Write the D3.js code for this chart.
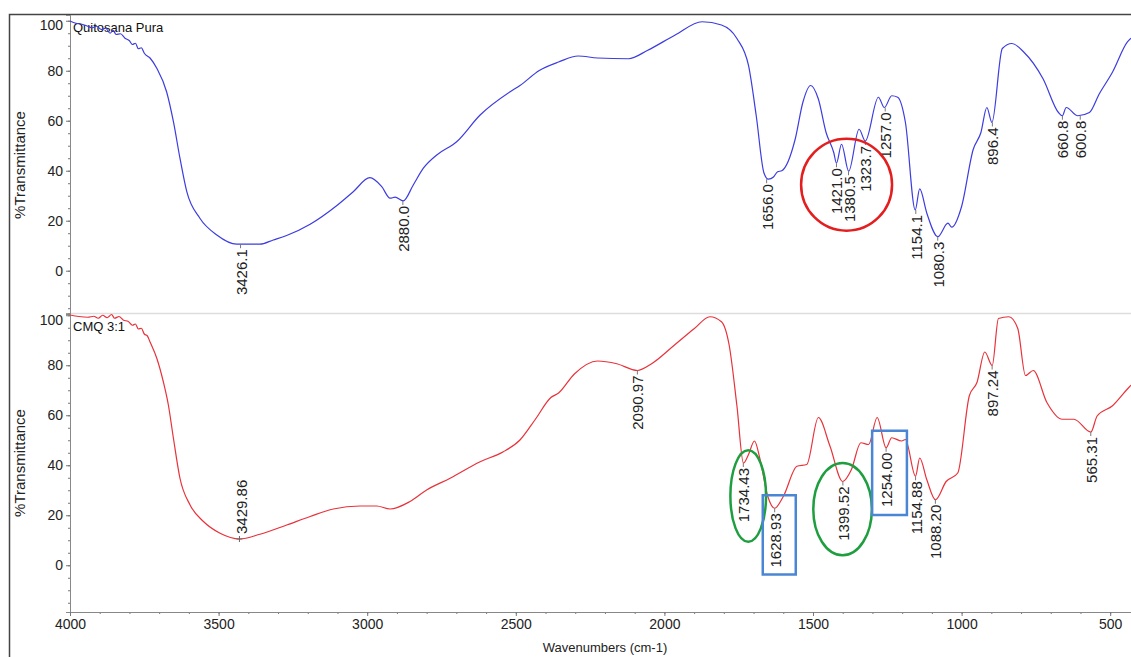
<!DOCTYPE html>
<html>
<head>
<meta charset="utf-8">
<script src="https://cdn.jsdelivr.net/npm/d3@7"></script>
<style>
body { margin: 0; background: #fff; }
text { font-family: Arial, "Liberation Sans", sans-serif; }
</style>
</head>
<body>
<div id="chart"></div>
<script>
// FTIR spectra, [wavenumber, %T]
var quitosana = [
  [4000, 99.9], [3980, 99], [3960, 98.6], [3940, 97.8], [3925, 97.2], [3910, 97.8],
  [3895, 96.5], [3880, 97], [3865, 95], [3855, 96.2], [3845, 94.5], [3830, 94.8],
  [3815, 93], [3800, 92], [3790, 90.5], [3780, 91], [3770, 88.8], [3760, 89.2],
  [3750, 87], [3730, 85], [3708, 81], [3675, 71.6], [3652, 59.6], [3630, 45],
  [3607, 31.6], [3563, 21], [3506, 14.3], [3439, 10.6], [3361, 10.6], [3316, 12.3],
  [3271, 14.1], [3192, 18.6], [3103, 26], [3047, 31.6], [2991, 37.2], [2951, 33.6],
  [2923, 29], [2906, 29.4], [2879, 27.9], [2845, 34.3], [2811, 41], [2766, 46.3],
  [2699, 51.6], [2620, 62.3], [2519, 71.6], [2486, 74.1], [2421, 80.1], [2356, 83.5],
  [2290, 85.9], [2225, 85.1], [2121, 84.8], [2056, 88.2], [1965, 94.2], [1873, 99.6],
  [1808, 98.3], [1756, 92.9], [1717, 82.1], [1691, 62], [1665, 39.1], [1650, 36.6],
  [1633, 37.5], [1619, 39.6], [1605, 40], [1560, 52.6], [1534, 67.4], [1508, 74.1],
  [1482, 68.7], [1456, 55.3], [1430, 47.2], [1421, 43], [1404, 50.6], [1380, 39.8],
  [1345, 56.6], [1324, 51.9], [1280, 69.4], [1260, 65.3], [1235, 70], [1215, 69.4],
  [1189, 59.3], [1156, 24.3], [1141, 32.7], [1117, 23], [1080, 13.6], [1046, 19],
  [1033, 17.4], [1000, 25.7], [961, 48.5], [935, 55.3], [915, 65.3], [898, 59.3],
  [863, 88.9], [831, 90.9], [791, 87.5], [726, 76.8], [674, 63.3], [661, 62],
  [648, 65.3], [609, 62], [570, 63.3], [537, 70.7], [492, 79.5], [442, 91.5], [430, 93]
];

var cmq = [
  [4000, 100.1], [3970, 99.5], [3940, 99.2], [3920, 99.6], [3905, 98.8], [3890, 100],
  [3875, 99], [3860, 100.3], [3850, 98.8], [3835, 99.5], [3820, 98], [3805, 97.6],
  [3790, 96], [3780, 96.5], [3770, 94.5], [3760, 94.8], [3750, 92.5], [3740, 91.8],
  [3731, 89.4], [3708, 82.8], [3686, 73.4], [3669, 64.1], [3652, 50.8], [3630, 34.8],
  [3596, 24.1], [3551, 17.5], [3495, 12.8], [3430, 10.5], [3361, 12.4], [3271, 16.1],
  [3192, 19.5], [3114, 22.5], [3024, 23.7], [2968, 23.7], [2923, 22.5], [2856, 25.5],
  [2800, 30.1], [2721, 34.8], [2620, 41.4], [2542, 45.4], [2486, 50.1], [2434, 58.4],
  [2382, 67.1], [2356, 68.9], [2303, 76.5], [2225, 81.7], [2160, 80.6], [2091, 77.9],
  [2043, 80.6], [1965, 88.2], [1899, 94.7], [1847, 99.4], [1808, 97.4], [1782, 88],
  [1756, 63.8], [1734, 40.9], [1717, 44.3], [1697, 49.7], [1678, 42.3], [1652, 27.5],
  [1629, 22.8], [1600, 27.5], [1554, 39.6], [1521, 40.3], [1482, 59.1], [1443, 47.7],
  [1400, 33.5], [1371, 38.2], [1339, 49], [1313, 48.3], [1284, 59.1], [1254, 47],
  [1235, 51], [1202, 49.7], [1189, 50.3], [1155, 35.6], [1141, 42.9], [1117, 34.2],
  [1088, 26.2], [1052, 33.5], [1013, 36.9], [974, 67.8], [948, 73.2], [922, 85.3],
  [897, 79.9], [876, 98.7], [841, 99.4], [811, 94.7], [785, 75.9], [759, 77.9],
  [713, 65.1], [661, 58.4], [622, 58.4], [565, 53.3], [544, 59.7], [492, 63.8],
  [442, 70.5], [430, 72]
];

// peak labels: [wavenumber, %T at the peak]
var quitosanaPeaks = [
  [3426.1, 10.6], [2880.0, 27.9], [1656.0, 36.6], [1421.0, 43], [1380.5, 39.8],
  [1323.7, 51.9], [1257.0, 65.3], [1154.1, 24.3], [1080.3, 13.6], [896.4, 59.3],
  [660.8, 62], [600.8, 62]
];
var cmqPeaks = [
  [2090.97, 77.9], [1734.43, 40.9], [1628.93, 22.8], [1399.52, 33.5], [1254.00, 47],
  [1154.88, 35.6], [1088.20, 26.2], [897.24, 79.9], [565.31, 53.3]
];
var cmqPeakAbove = [[3429.86, 10.5]];

// highlight marks [w1, w2, T1, T2]
var redCircles = [[1540, 1234, 52.8, 16]];
var greenEllipses = [[1778, 1658, 46, 9.4], [1499, 1302, 40.9, 4]];
var blueBoxes = [[1669, 1558, 28, -3.7], [1301, 1184, 53.8, 20.1]];

var xTicks = [4000, 3500, 3000, 2500, 2000, 1500, 1000, 500];
var yTicks = [0, 20, 40, 60, 80, 100];

var width = 1131, height = 657;

var svg = d3.select("#chart").append("svg")
  .attr("width", width).attr("height", height)
  .style("display", "block");

svg.append("rect").attr("width", width).attr("height", height).attr("fill", "#fff");

var x = d3.scaleLinear().domain([4000, 430]).range([70, 1131]);
var yTop = d3.scaleLinear().domain([-17, 102.3]).range([313.2, 15]);
var yBot = d3.scaleLinear().domain([-18.7, 100.5]).range([612, 314]);

// outer frame
svg.append("rect")
  .attr("x", 9.5).attr("y", 14.5)
  .attr("width", 1200).attr("height", 700)
  .attr("fill", "none").attr("stroke", "#444").attr("stroke-width", 1.5);

// panel separator
svg.append("line")
  .attr("x1", 70).attr("x2", 1131).attr("y1", 313.5).attr("y2", 313.5)
  .attr("stroke", "#ddd").attr("stroke-width", 1.5);

function styleAxis(g) {
  g.select(".domain").attr("stroke", "#888");
  g.selectAll(".tick line").attr("stroke", "#777");
  g.selectAll(".tick text").attr("fill", "#222").style("font-size", "14px");
}

// y axes, both panels
[yTop, yBot].forEach(function (y) {
  var minor = d3.range(-15, 101, 5);
  svg.append("g")
    .attr("transform", "translate(70,0)")
    .call(d3.axisLeft(y).tickValues(minor).tickSize(2).tickFormat(""))
    .call(styleAxis);
  var g = svg.append("g")
    .attr("transform", "translate(70,0)")
    .call(d3.axisLeft(y).tickValues(yTicks).tickSize(4).tickPadding(3).tickFormat(d3.format("d")))
    .call(styleAxis);
  g.selectAll(".tick text")
    .filter(function (d) { return d == 100; })
    .attr("dy", "0.65em");
});

// x axis
svg.append("g")
  .attr("transform", "translate(0,612)")
  .call(d3.axisBottom(x).tickValues(d3.range(4000, 429, -100)).tickSize(2).tickFormat(""))
  .call(styleAxis);
svg.append("g")
  .attr("transform", "translate(0,612)")
  .call(d3.axisBottom(x).tickValues(xTicks).tickSize(4).tickPadding(3).tickFormat(d3.format("d")))
  .call(styleAxis);

svg.append("text")
  .attr("x", 605).attr("y", 652)
  .attr("text-anchor", "middle")
  .style("font-size", "13px").attr("fill", "#222")
  .text("Wavenumbers (cm-1)");

// y titles
[[165, yTop], [463, yBot]].forEach(function (p) {
  svg.append("text")
    .attr("transform", "translate(20," + p[0] + ") rotate(-90)")
    .attr("text-anchor", "middle").attr("dy", "0.35em")
    .style("font-size", "15px").attr("fill", "#222")
    .text("%Transmittance");
});

// panel titles
svg.append("text").attr("x", 73).attr("y", 32)
  .style("font-size", "13px").attr("fill", "#111").text("Quitosana Pura");
svg.append("text").attr("x", 73).attr("y", 331)
  .style("font-size", "13px").attr("fill", "#111").text("CMQ 3:1");

function drawSpectrum(data, y, color) {
  var line = d3.line()
    .x(function (d) { return x(d[0]); })
    .y(function (d) { return y(d[1]); })
    .curve(d3.curveMonotoneX);
  svg.append("path")
    .datum(data)
    .attr("fill", "none")
    .attr("stroke", color)
    .attr("stroke-width", 1.2)
    .attr("d", line);
}

drawSpectrum(quitosana, yTop, "#3c3ce0");
drawSpectrum(cmq, yBot, "#e8323a");

// peak labels below the curve
function labelBelow(peaks, y, digits) {
  peaks.forEach(function (p) {
    var px = x(p[0]), py = y(p[1]);
    svg.append("line")
      .attr("x1", px).attr("x2", px).attr("y1", py).attr("y2", py + 4)
      .attr("stroke", "#777").attr("stroke-width", 1);
    svg.append("text")
      .attr("transform", "translate(" + px + "," + (py + 5) + ") rotate(-90)")
      .attr("text-anchor", "end").attr("dy", "0.4em")
      .style("font-size", "15px").attr("fill", "#222")
      .text(p[0].toFixed(digits));
  });
}
labelBelow(quitosanaPeaks, yTop, 1);
labelBelow(cmqPeaks, yBot, 2);

// label above the curve, with cross marker
cmqPeakAbove.forEach(function (p) {
  var px = x(p[0]), py = yBot(p[1]);
  svg.append("path")
    .attr("d", "M" + (px - 3) + "," + py + "H" + (px + 3) + "M" + px + "," + (py - 3) + "V" + (py + 3))
    .attr("stroke", "#666").attr("stroke-width", 1);
  svg.append("text")
    .attr("transform", "translate(" + (px + 2) + "," + (py - 5) + ") rotate(-90)")
    .attr("text-anchor", "start").attr("dy", "0.4em")
    .style("font-size", "15px").attr("fill", "#222")
    .text(p[0].toFixed(2));
});

// highlight marks
redCircles.forEach(function (c) {
  svg.append("ellipse")
    .attr("cx", (x(c[0]) + x(c[1])) / 2).attr("cy", (yTop(c[2]) + yTop(c[3])) / 2)
    .attr("rx", Math.abs(x(c[1]) - x(c[0])) / 2).attr("ry", Math.abs(yTop(c[3]) - yTop(c[2])) / 2)
    .attr("fill", "none").attr("stroke", "#e41e1e").attr("stroke-width", 2.5);
});
greenEllipses.forEach(function (c) {
  svg.append("ellipse")
    .attr("cx", (x(c[0]) + x(c[1])) / 2).attr("cy", (yBot(c[2]) + yBot(c[3])) / 2)
    .attr("rx", Math.abs(x(c[1]) - x(c[0])) / 2).attr("ry", Math.abs(yBot(c[3]) - yBot(c[2])) / 2)
    .attr("fill", "none").attr("stroke", "#1f9e40").attr("stroke-width", 2.5);
});
blueBoxes.forEach(function (c) {
  svg.append("rect")
    .attr("x", x(c[0])).attr("y", yBot(c[2]))
    .attr("width", x(c[1]) - x(c[0])).attr("height", yBot(c[3]) - yBot(c[2]))
    .attr("fill", "none").attr("stroke", "#4a86d4").attr("stroke-width", 2.5);
});
</script>
</body>
</html>
